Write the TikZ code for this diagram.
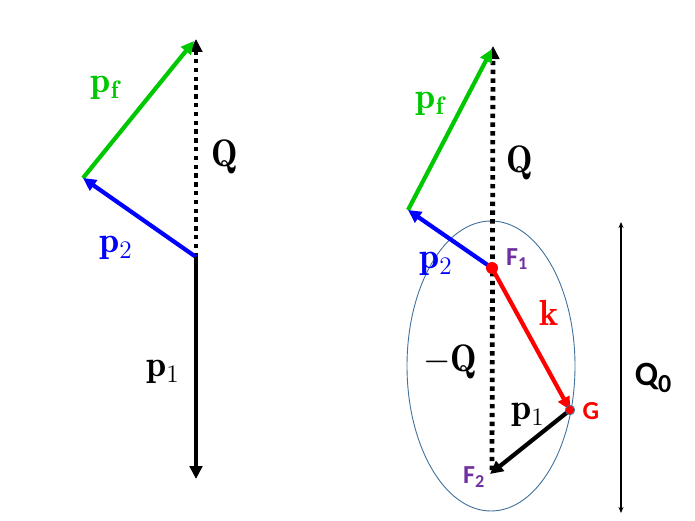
\documentclass[tikz,border=0pt]{standalone}
\usepackage{fontspec}
\usepackage{amsmath}
\newfontfamily\calib{Carlito}
\usetikzlibrary{arrows.meta,calc}
\definecolor{vgreen}{RGB}{0,200,0}
\definecolor{vblue}{RGB}{0,0,255}
\definecolor{vred}{RGB}{255,0,0}
\definecolor{vpurple}{RGB}{112,48,160}
\definecolor{ellcol}{RGB}{65,113,156}
\newcommand\mlb[1]{\scalebox{1.75}{$#1$}}
\newcommand\mlq[1]{\scalebox{1.7}[1.85]{$#1$}}
\tikzset{
  vec/.style={line width=4.2pt,-{Triangle[length=13pt,width=12.5pt]}},
  dotq/.style={line width=4.8pt,dash pattern=on 4.4pt off 4.4pt,-{Triangle[length=13pt,width=12.5pt]}},
  mlab/.style={font=\huge,inner sep=0pt},
  slab/.style={font=\calib\bfseries\fontsize{26}{28}\selectfont,inner sep=0pt},
}
\begin{document}
\begin{tikzpicture}[x=1pt,y=-1pt]
\useasboundingbox (0,0) rectangle (695,521);
% left diagram
\coordinate (LT) at (196,39);
\coordinate (LV) at (83,178);
\coordinate (LO) at (196,257);
\coordinate (LB) at (196,479);
\draw[dotq] (LO) -- (LT);
\draw[vec,vgreen] (LV) -- ($(LT)+(-2,2)$);
\draw[vec,vblue] (LO) -- (LV);
\draw[vec,black] (LO) -- (LB);
\node[mlab,vgreen] (lpf) at (105,88) {\mlb{\mathbf{p_f}}};
\node[mlab] (lq) at (225,157) {\mlq{\mathbf{Q}}};
\node[mlab,vblue] (lp2) at (116,248) {\mlb{\mathbf{p}_2}};
\node[mlab] (lp1) at (163,372) {\mlb{\mathbf{p}_1}};
% right diagram
\draw[ellcol,line width=0.9pt] (491,366) ellipse [x radius=84, y radius=145];
\coordinate (RT) at (493,46);
\coordinate (RV) at (408,210);
\coordinate (F1) at (492,268);
\coordinate (G) at (570,410);
\coordinate (F2) at (490,474);
\draw[dotq] (492,470) -- (RT);
\draw[vec,vgreen] (RV) -- ($(RT)+(-1,3)$);
\draw[vec,vblue] (F1) -- (RV);
\draw[vec,vred] (F1) -- (G);
\draw[vec,black] (G) -- (F2);
\fill[vred] (F1) circle (6pt);
\fill[vred] (G) circle (4.5pt);
\draw[ellcol,line width=0.7pt] (G) circle (4.8pt);
\node[mlab,vgreen] (rpf) at (430,104) {\mlb{\mathbf{p_f}}};
\node[mlab] (rq) at (520,163) {\mlq{\mathbf{Q}}};
\node[mlab,vblue] (rp2) at (436,264) {\mlb{\mathbf{p}_2}};
\node[mlab,vred] (rk) at (549,313) {\mlb{\mathbf{k}}};
\node[mlab] (rmq) at (450,362) {\mlq{-\mathbf{Q}}};
\node[mlab] (rp1) at (528,415) {\mlb{\mathbf{p}_1}};
\node[slab,vpurple] (lf1) at (517,259) {F\textsubscript{1}};
\node[slab,vpurple] (lf2) at (474,477) {F\textsubscript{2}};
\node[slab,vred] (lg) at (591,411) {G};
% Q0 arrow
\coordinate (Q0a) at (621,222);
\coordinate (Q0b) at (621,513);
\draw[line width=1.3pt,{Stealth[length=6pt,width=5pt]}-{Stealth[length=6pt,width=5pt]}] (Q0a) -- (Q0b);
\node[font=\calib\bfseries\fontsize{34}{36}\selectfont,inner sep=0pt] (q0) at (653,378) {Q\raisebox{-0.22em}{\fontsize{26}{28}\selectfont 0}};
\end{tikzpicture}
\end{document}
